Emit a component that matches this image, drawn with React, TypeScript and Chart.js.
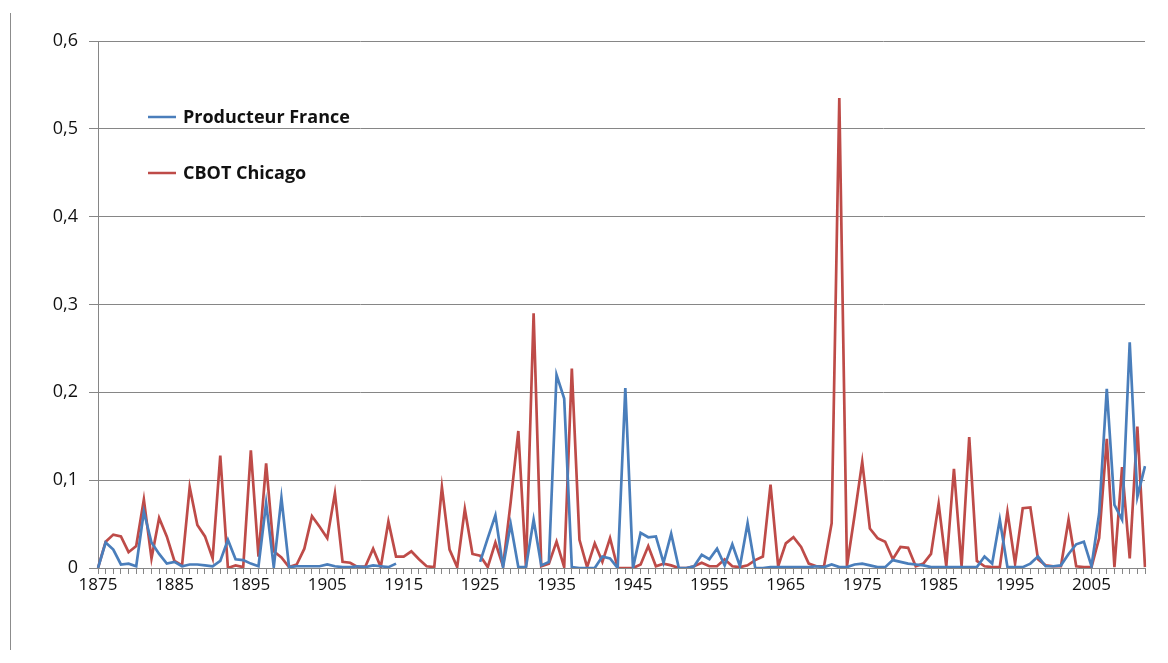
import React, { useEffect, useRef } from "react";
import { Chart, registerables } from "chart.js";

Chart.register(...registerables);

// Years 1875..2012
const FIRST_YEAR = 1875;
const LAST_YEAR = 2012;
const years: string[] = [];
for (let y = FIRST_YEAR; y <= LAST_YEAR; y++) years.push(String(y));

const yTicks = [0, 0.1, 0.2, 0.3, 0.4, 0.5, 0.6];

// CBOT Chicago
const cbotChicago: number[] = [
  // 1875-1884
  0, 0.030, 0.038, 0.036, 0.018, 0.025, 0.078, 0.011, 0.057, 0.036,
  // 1885-1894
  0.008, 0.003, 0.092, 0.049, 0.036, 0.011, 0.128, 0.000, 0.003, 0.001,
  // 1895-1904
  0.134, 0.013, 0.119, 0.019, 0.012, 0.001, 0.004, 0.022, 0.059, 0.047,
  // 1905-1914
  0.034, 0.085, 0.007, 0.006, 0.001, 0.002, 0.022, 0.001, 0.053, 0.013,
  // 1915-1924
  0.013, 0.019, 0.010, 0.002, 0.001, 0.092, 0.021, 0.001, 0.067, 0.016,
  // 1925-1934
  0.014, 0.001, 0.029, 0.002, 0.075, 0.156, 0.001, 0.290, 0.002, 0.005,
  // 1935-1944
  0.030, 0.001, 0.227, 0.032, 0.001, 0.028, 0.007, 0.034, 0.000, 0.000,
  // 1945-1954
  0.000, 0.004, 0.025, 0.002, 0.005, 0.003, 0.000, 0.000, 0.002, 0.006,
  // 1955-1964
  0.002, 0.002, 0.010, 0.002, 0.001, 0.003, 0.009, 0.013, 0.095, 0.002,
  // 1965-1974
  0.028, 0.035, 0.024, 0.005, 0.002, 0.002, 0.051, 0.535, 0.002, 0.060,
  // 1975-1984
  0.121, 0.045, 0.034, 0.030, 0.010, 0.024, 0.023, 0.002, 0.005, 0.016,
  // 1985-1994
  0.073, 0.002, 0.113, 0.002, 0.149, 0.008, 0.002, 0.001, 0.001, 0.064,
  // 1995-2004
  0.005, 0.068, 0.069, 0.010, 0.003, 0.002, 0.002, 0.055, 0.002, 0.001,
  // 2005-2012
  0.001, 0.034, 0.147, 0.001, 0.115, 0.011, 0.161, 0.001,
];

// Producteur France (no data 1915-1924)
const producteurFrance: (number | null)[] = [
  // 1875-1884
  0, 0.029, 0.021, 0.004, 0.005, 0.002, 0.064, 0.029, 0.016, 0.005,
  // 1885-1894
  0.007, 0.002, 0.004, 0.004, 0.003, 0.002, 0.008, 0.032, 0.010, 0.009,
  // 1895-1904
  0.005, 0.002, 0.074, 0.001, 0.080, 0.001, 0.002, 0.002, 0.002, 0.002,
  // 1905-1914
  0.004, 0.002, 0.001, 0.001, 0.002, 0.001, 0.003, 0.002, 0.001, 0.005,
  // 1915-1924
  null, null, null, null, null, null, null, null, null, null,
  // 1925-1934
  0.007, 0.034, 0.060, 0.001, 0.050, 0.001, 0.001, 0.055, 0.003, 0.007,
  // 1935-1944
  0.220, 0.193, 0.001, 0.000, 0.000, 0.000, 0.013, 0.011, 0.000, 0.205,
  // 1945-1954
  0.000, 0.040, 0.035, 0.036, 0.006, 0.039, 0.000, 0.000, 0.002, 0.015,
  // 1955-1964
  0.010, 0.022, 0.003, 0.027, 0.002, 0.051, 0.000, 0.000, 0.001, 0.001,
  // 1965-1974
  0.001, 0.001, 0.001, 0.001, 0.002, 0.001, 0.004, 0.001, 0.001, 0.004,
  // 1975-1984
  0.005, 0.003, 0.001, 0.001, 0.009, 0.007, 0.005, 0.004, 0.003, 0.001,
  // 1985-1994
  0.001, 0.001, 0.001, 0.001, 0.001, 0.001, 0.013, 0.005, 0.055, 0.001,
  // 1995-2004
  0.001, 0.001, 0.005, 0.013, 0.002, 0.002, 0.003, 0.016, 0.027, 0.030,
  // 2005-2012
  0.002, 0.062, 0.204, 0.072, 0.055, 0.257, 0.081, 0.116,
];

const seriesLabels = ["Producteur France", "CBOT Chicago"];
const seriesColors = ["#4A7EBB", "#BE4B48"];

const FONT = '"Open Sans", "Liberation Sans", sans-serif';

const insideLegend = {
  id: "insideLegend",
  afterDraw(chart: any) {
    const { ctx, chartArea } = chart;
    ctx.save();
    seriesLabels.forEach((label, k) => {
      const y = chartArea.top + 76 + k * 56;
      const x0 = chartArea.left + 50;
      ctx.strokeStyle = seriesColors[k];
      ctx.lineWidth = 2.5;
      ctx.beginPath();
      ctx.moveTo(x0, y);
      ctx.lineTo(x0 + 28, y);
      ctx.stroke();
      ctx.font = `bold 18px ${FONT}`;
      ctx.fillStyle = "#111";
      ctx.textBaseline = "middle";
      ctx.textAlign = "left";
      ctx.fillText(label, x0 + 35, y + 1);
    });
    ctx.restore();
  },
};

export default function App() {
  const ref = useRef<HTMLCanvasElement | null>(null);

  useEffect(() => {
    if (!ref.current) return;
    const chart = new Chart(ref.current, {
      type: "line",
      data: {
        labels: years,
        datasets: [
          {
            label: seriesLabels[0],
            data: producteurFrance,
            borderColor: seriesColors[0],
            backgroundColor: seriesColors[0],
            borderWidth: 2.7,
            pointRadius: 0,
            tension: 0,
            spanGaps: false,
          },
          {
            label: seriesLabels[1],
            data: cbotChicago,
            borderColor: seriesColors[1],
            backgroundColor: seriesColors[1],
            borderWidth: 2.7,
            pointRadius: 0,
            tension: 0,
          },
        ],
      },
      options: {
        responsive: false,
        animation: false,
        devicePixelRatio: 1,
        layout: { padding: { left: 0, right: 23, top: 41, bottom: 0 } },
        plugins: {
          legend: { display: false },
          tooltip: { enabled: false },
        },
        scales: {
          x: {
            type: "category",
            offset: false,
            afterFit: (scale: any) => {
              scale.height = 95;
            },
            grid: {
              drawOnChartArea: false,
              drawTicks: true,
              tickLength: 6,
              color: "#868686",
            },
            border: { color: "#868686", width: 1 },
            ticks: {
              autoSkip: false,
              maxRotation: 0,
              minRotation: 0,
              padding: 1,
              color: "#111",
              font: { family: FONT, size: 17 },
              callback: (_v: any, i: number) =>
                (FIRST_YEAR + i - 1875) % 10 === 0 ? years[i] : "",
            },
          },
          y: {
            min: yTicks[0],
            max: yTicks[yTicks.length - 1],
            afterFit: (scale: any) => {
              scale.width = 98;
            },
            afterBuildTicks: (scale: any) => {
              scale.ticks = yTicks.map((v) => ({ value: v }));
            },
            grid: {
              color: "#868686",
              drawTicks: true,
              tickLength: 9,
            },
            border: { color: "#868686", width: 1 },
            ticks: {
              padding: 11,
              color: "#111",
              font: { family: FONT, size: 18 },
              callback: (v: any) =>
                Number(v) === 0 ? "0" : Number(v).toFixed(1).replace(".", ","),
            },
          },
        },
      },
      plugins: [insideLegend],
    });
    return () => chart.destroy();
  }, []);

  return (
    <div
      style={{
        position: "fixed",
        left: 0,
        top: 0,
        width: 1168,
        height: 663,
        background: "#fff",
      }}
    >
      <div
        style={{
          position: "absolute",
          left: 10,
          top: 13,
          width: 1,
          height: 637,
          background: "#8c8c8c",
        }}
      />
      <canvas
        ref={ref}
        width={1168}
        height={663}
        style={{ position: "absolute", left: 0, top: 0 }}
      />
    </div>
  );
}
